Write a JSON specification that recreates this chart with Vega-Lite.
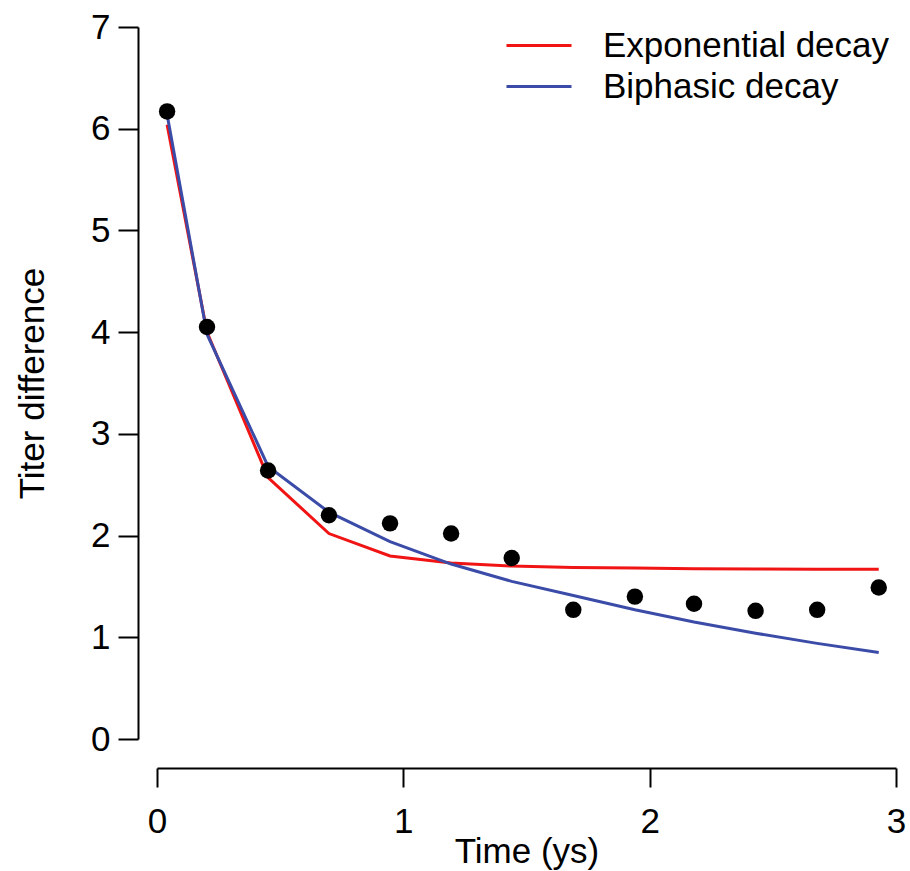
{
  "$schema": "https://vega.github.io/schema/vega-lite/v6.json",
  "width": 739,
  "height": 712,
  "autosize": {"type": "none"},
  "padding": {"left": 157, "top": 27, "right": 14, "bottom": 132},
  "background": "white",
  "config": {
    "view": {"stroke": null},
    "font": "Liberation Sans",
    "axis": {
      "grid": false,
      "labelFont": "Liberation Sans",
      "titleFont": "Liberation Sans",
      "labelFontSize": 35,
      "titleFontSize": 35,
      "titleFontWeight": "normal",
      "labelColor": "black",
      "titleColor": "black",
      "domainColor": "black",
      "tickColor": "black",
      "domainWidth": 2,
      "tickWidth": 2,
      "labelFlush": false,
      "labelOverlap": false
    },
    "legend": {
      "labelFont": "Liberation Sans",
      "labelFontSize": 35,
      "labelColor": "black",
      "labelLimit": 0
    }
  },
  "datasets": {
    "curves": [
      {"time": 0.041, "titer": 6.04, "model": "Exponential decay"},
      {"time": 0.203, "titer": 4.0, "model": "Exponential decay"},
      {"time": 0.451, "titer": 2.57, "model": "Exponential decay"},
      {"time": 0.698, "titer": 2.02, "model": "Exponential decay"},
      {"time": 0.946, "titer": 1.8, "model": "Exponential decay"},
      {"time": 1.194, "titer": 1.73, "model": "Exponential decay"},
      {"time": 1.44, "titer": 1.7, "model": "Exponential decay"},
      {"time": 1.69, "titer": 1.685, "model": "Exponential decay"},
      {"time": 1.94, "titer": 1.68, "model": "Exponential decay"},
      {"time": 2.18, "titer": 1.675, "model": "Exponential decay"},
      {"time": 2.43, "titer": 1.672, "model": "Exponential decay"},
      {"time": 2.68, "titer": 1.67, "model": "Exponential decay"},
      {"time": 2.93, "titer": 1.67, "model": "Exponential decay"},
      {"time": 0.041, "titer": 6.14, "model": "Biphasic decay"},
      {"time": 0.203, "titer": 3.98, "model": "Biphasic decay"},
      {"time": 0.451, "titer": 2.68, "model": "Biphasic decay"},
      {"time": 0.698, "titer": 2.23, "model": "Biphasic decay"},
      {"time": 0.946, "titer": 1.94, "model": "Biphasic decay"},
      {"time": 1.194, "titer": 1.72, "model": "Biphasic decay"},
      {"time": 1.44, "titer": 1.55, "model": "Biphasic decay"},
      {"time": 1.69, "titer": 1.41, "model": "Biphasic decay"},
      {"time": 1.94, "titer": 1.27, "model": "Biphasic decay"},
      {"time": 2.18, "titer": 1.15, "model": "Biphasic decay"},
      {"time": 2.43, "titer": 1.04, "model": "Biphasic decay"},
      {"time": 2.68, "titer": 0.94, "model": "Biphasic decay"},
      {"time": 2.93, "titer": 0.85, "model": "Biphasic decay"}
    ],
    "observed": [
      {"time": 0.041, "titer": 6.17},
      {"time": 0.203, "titer": 4.05},
      {"time": 0.451, "titer": 2.64},
      {"time": 0.698, "titer": 2.2},
      {"time": 0.946, "titer": 2.12},
      {"time": 1.194, "titer": 2.02},
      {"time": 1.44, "titer": 1.78},
      {"time": 1.69, "titer": 1.27},
      {"time": 1.94, "titer": 1.4},
      {"time": 2.18, "titer": 1.33},
      {"time": 2.43, "titer": 1.26},
      {"time": 2.68, "titer": 1.27},
      {"time": 2.93, "titer": 1.49}
    ]
  },
  "layer": [
    {
      "data": {"name": "curves"},
      "mark": {"type": "line", "strokeWidth": 3},
      "encoding": {
        "x": {
          "field": "time", "type": "quantitative",
          "scale": {"domain": [0, 3], "nice": false, "zero": false},
          "axis": {"values": [0, 1, 2, 3], "format": "d", "offset": 29, "tickSize": 19, "labelPadding": 17, "title": "Time (ys)", "titlePadding": -5}
        },
        "y": {
          "field": "titer", "type": "quantitative",
          "scale": {"domain": [0, 7], "nice": false, "zero": false},
          "axis": {"values": [0, 1, 2, 3, 4, 5, 6, 7], "format": "d", "offset": 19, "tickSize": 20, "labelPadding": 8, "title": "Titer difference", "titlePadding": 40}
        },
        "color": {
          "field": "model", "type": "nominal",
          "scale": {"domain": ["Exponential decay", "Biphasic decay"], "range": ["#f01414", "#3b4ba8"]},
          "legend": {
            "title": null,
            "orient": "none",
            "legendX": 348,
            "legendY": -2,
            "symbolType": "stroke",
            "symbolSize": 4225,
            "symbolStrokeWidth": 3,
            "labelOffset": 30,
            "clipHeight": 41,
            "rowPadding": 0
          }
        }
      }
    },
    {
      "data": {"name": "observed"},
      "mark": {"type": "point", "filled": true, "color": "black", "opacity": 1, "size": 270},
      "encoding": {
        "x": {"field": "time", "type": "quantitative"},
        "y": {"field": "titer", "type": "quantitative"}
      }
    }
  ]
}
